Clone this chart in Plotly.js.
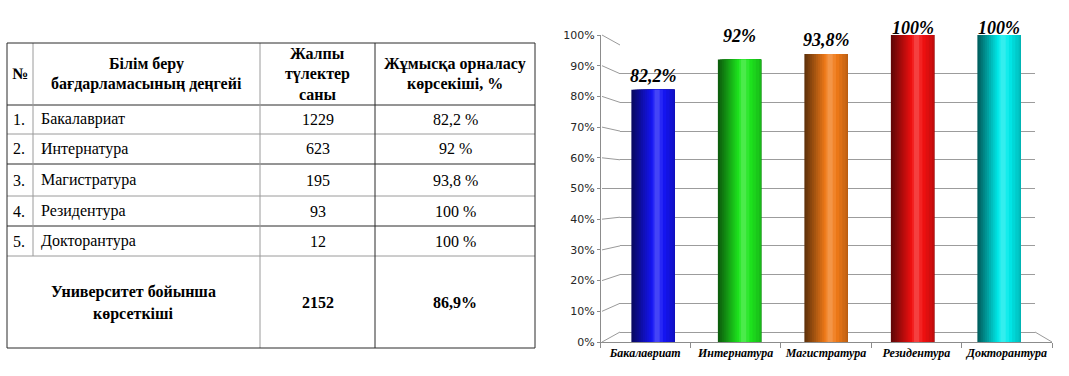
<!DOCTYPE html>
<html>
<head>
<meta charset="utf-8">
<script src="https://cdn.plot.ly/plotly-3.0.1.min.js"></script>
<style>html,body{margin:0;padding:0;background:#fff}#chart{width:1069px;height:376px}</style>
</head>
<body>
<div id="chart"></div>
<script>
// ---------- DATA ----------
const levels = ['Бакалавриат', 'Интернатура', 'Магистратура', 'Резидентура', 'Докторантура'];
const graduates = [1229, 623, 195, 93, 12];
const employment = [82.2, 92, 93.8, 100, 100];
const headerLines = [
  ['№'],
  ['Білім беру', 'бағдарламасының деңгейі'],
  ['Жалпы', 'түлектер', 'саны'],
  ['Жұмысқа орналасу', 'көрсекіші, %']
];
const totalLabelLines = ['Университет бойынша', 'көрсеткіші'];
const totalGraduates = 2152;
const totalEmployment = 86.9;

// ---------- STYLE / LAYOUT CONSTANTS ----------
const W = 1069, H = 376;
const PX = x => x / W;
const PY = y => 1 - y / H;
const colEdges = [7, 33, 260, 375, 535];
const rowEdges = [43, 105, 134, 164, 196, 226, 256, 348];
const dark = '#2b2b2b', gray = '#9a9a9a';
const serif = '"Liberation Serif"';
const barBase = ['#1515f5', '#1ee61e', '#f07a18', '#f21010', '#00eaea'];
const labelShift = [14, 24, 14, 7, 7];

const fmtPct = (v, sp) => String(v).replace('.', ',') + (sp ? ' %' : '%');

// ---------- TABLE (shapes + annotations) ----------
const shapes = [];
function line(x0, y0, x1, y1, color) {
  shapes.push({type: 'line', xref: 'paper', yref: 'paper',
    x0: PX(x0), y0: PY(y0), x1: PX(x1), y1: PY(y1),
    line: {color: color, width: 1}});
}
const L = colEdges[0], R = colEdges[colEdges.length - 1];
const T = rowEdges[0], B = rowEdges[rowEdges.length - 1];
for (let i = 1; i < rowEdges.length - 1; i++) {
  line(L, rowEdges[i], R, rowEdges[i], (i % 2 === 1) ? dark : gray);
}
line(colEdges[1], T, colEdges[1], rowEdges[rowEdges.length - 2], gray);
line(colEdges[2], T, colEdges[2], B, gray);
line(colEdges[3], T, colEdges[3], B, dark);
line(L, T, R, T, dark);
line(L, B, R, B, dark);
line(L, T, L, B, dark);
line(R, T, R, B, dark);

const annotations = [];
const regular = {family: serif, size: 16, color: '#000', weight: 'normal'};
const bold = {family: serif, size: 16, color: '#000', weight: 'bold'};
function txt(x, y, text, opts) {
  annotations.push(Object.assign({
    xref: 'paper', yref: 'paper', x: PX(x), y: PY(y), text: text,
    showarrow: false, xanchor: 'center', yanchor: 'middle', font: regular
  }, opts || {}));
}
const colCenter = c => (colEdges[c] + colEdges[c + 1]) / 2;
const rowCenter = r => (rowEdges[r] + rowEdges[r + 1]) / 2;
// header
headerLines.forEach((lines, c) => {
  const cy = rowCenter(0), sp = 20;
  lines.forEach((t, k) => {
    txt(colCenter(c), cy + (k - (lines.length - 1) / 2) * sp, t, {font: bold});
  });
});
// body rows
levels.forEach((name, i) => {
  const cy = rowCenter(i + 1);
  txt(colEdges[0] + 4, cy, (i + 1) + '.', {xanchor: 'left'});
  txt(colEdges[1] + 6, cy, name, {xanchor: 'left'});
  txt(colCenter(2), cy, String(graduates[i]));
  txt(colCenter(3), cy, fmtPct(employment[i], true));
});
// total row
{
  const cy = rowCenter(rowEdges.length - 2);
  const cx = (colEdges[0] + colEdges[2]) / 2;
  totalLabelLines.forEach((t, k) => {
    txt(cx, cy + (k - (totalLabelLines.length - 1) / 2) * 22 + 1, t, {font: bold});
  });
  txt(colCenter(2), cy, String(totalGraduates), {font: bold});
  txt(colCenter(3), cy, fmtPct(totalEmployment, false), {font: bold});
}

// ---------- CHART ----------
const wall = {x0: 620, x1: 1035, y0: 332, y1: 45};
const front = {x0: 600, x1: 1052, y0: 342, y1: 35};
const barAx = {x0: 609.75, x1: 1042.25};

levels.forEach((c, i) => {
  annotations.push({
    xref: 'x2', yref: 'y2', x: c, y: employment[i], text: fmtPct(employment[i], false),
    showarrow: false, xanchor: 'center', yanchor: 'middle', yshift: labelShift[i],
    font: {family: serif, size: 18, color: '#000', weight: 'bold', style: 'italic'}
  });
});

for (let v = 0; v <= 100; v += 10) {
  const yf = front.y0 + (front.y1 - front.y0) * v / 100;
  const yb = wall.y0 + (wall.y1 - wall.y0) * v / 100;
  line(front.x0 + 2, yf, wall.x0, yb, '#9a9a9a');
}
line(wall.x1, wall.y0, front.x1, front.y0, '#9a9a9a');

// cylinder shading: nested overlay layers (style only)
function hexToRgb(h) { return [1, 3, 5].map(i => parseInt(h.substr(i, 2), 16)); }
function shade(hex, b) {
  const c = hexToRgb(hex);
  const o = c.map(v => b <= 1 ? v * b : v + (255 - v) * Math.min(1, (b - 1) * 2.2));
  return 'rgb(' + o.map(v => Math.round(v)).join(',') + ')';
}
const BW = 0.5, NL = 14, bMin = 0.38, bMax = 1.12, peak = 0.58, bRight = 0.8;
const traces = [
  {type: 'scatter', x: levels, y: employment, xaxis: 'x', yaxis: 'y', mode: 'none',
   hoverinfo: 'skip', showlegend: false}
];
for (let k = 0; k < NL; k++) {
  const b = bMin + (bMax - bMin) * k / (NL - 1);
  const bc = Math.min(bMax, b + (bMax - bMin) / (NL - 1) / 2);
  const tl = peak * (b - bMin) / (bMax - bMin);
  const tr = b <= bRight ? 1 : peak + (1 - peak) * (bMax - b) / (bMax - bRight);
  if (tr - tl <= 0.001) continue;
  traces.push({type: 'bar', x: levels, y: employment, xaxis: 'x2', yaxis: 'y2',
    offset: -BW / 2 + tl * BW, width: Math.max(0.004, (tr - tl) * BW),
    marker: {color: barBase.map(h => shade(h, bc)), line: {width: 0}},
    showlegend: false, hoverinfo: 'skip'});
}
traces.push({type: 'scatter', x: levels, y: employment, xaxis: 'x3', yaxis: 'y2', mode: 'none',
   hoverinfo: 'skip', showlegend: false});

const layout = {
  width: W, height: H,
  margin: {l: 0, r: 0, t: 0, b: 0},
  paper_bgcolor: '#fff', plot_bgcolor: 'rgba(0,0,0,0)',
  showlegend: false, barmode: 'overlay',
  xaxis: {domain: [PX(wall.x0), PX(wall.x1)], anchor: 'y', type: 'category',
    range: [-0.5, 4.5], visible: false},
  yaxis: {domain: [PY(wall.y0), PY(wall.y1)], anchor: 'x', range: [0, 100], dtick: 10,
    showgrid: true, gridcolor: '#9c9c9c', gridwidth: 1, zeroline: true, zerolinecolor: '#9c9c9c',
    zerolinewidth: 1, showticklabels: false, ticks: '', showline: false},
  xaxis2: {domain: [PX(barAx.x0), PX(barAx.x1)], anchor: 'y2', type: 'category',
    range: [-0.5, 4.5], visible: false},
  yaxis2: {domain: [PY(front.y0), PY(front.y1)], anchor: 'free', position: PX(front.x0),
    range: [0, 100], dtick: 10, ticksuffix: '%', showgrid: false, zeroline: false,
    showline: true, linecolor: '#8c8c8c', linewidth: 1, ticks: 'outside', ticklen: 3,
    tickcolor: '#8c8c8c', tickfont: {family: '"DejaVu Sans"', size: 11, color: '#262626'}},
  xaxis3: {domain: [PX(front.x0), PX(front.x1)], anchor: 'y2', type: 'category',
    range: [-0.5, 4.5], showgrid: false, zeroline: false, showline: true, linecolor: '#8c8c8c',
    ticks: 'outside', tickson: 'boundaries', ticklen: 5, tickcolor: '#8c8c8c', tickangle: 0,
    tickfont: {family: serif, size: 12, color: '#000', weight: 'bold', style: 'italic'}},
  shapes: shapes,
  annotations: annotations
};

Plotly.newPlot('chart', traces, layout, {displayModeBar: false, staticPlot: true});
</script>
</body>
</html>
